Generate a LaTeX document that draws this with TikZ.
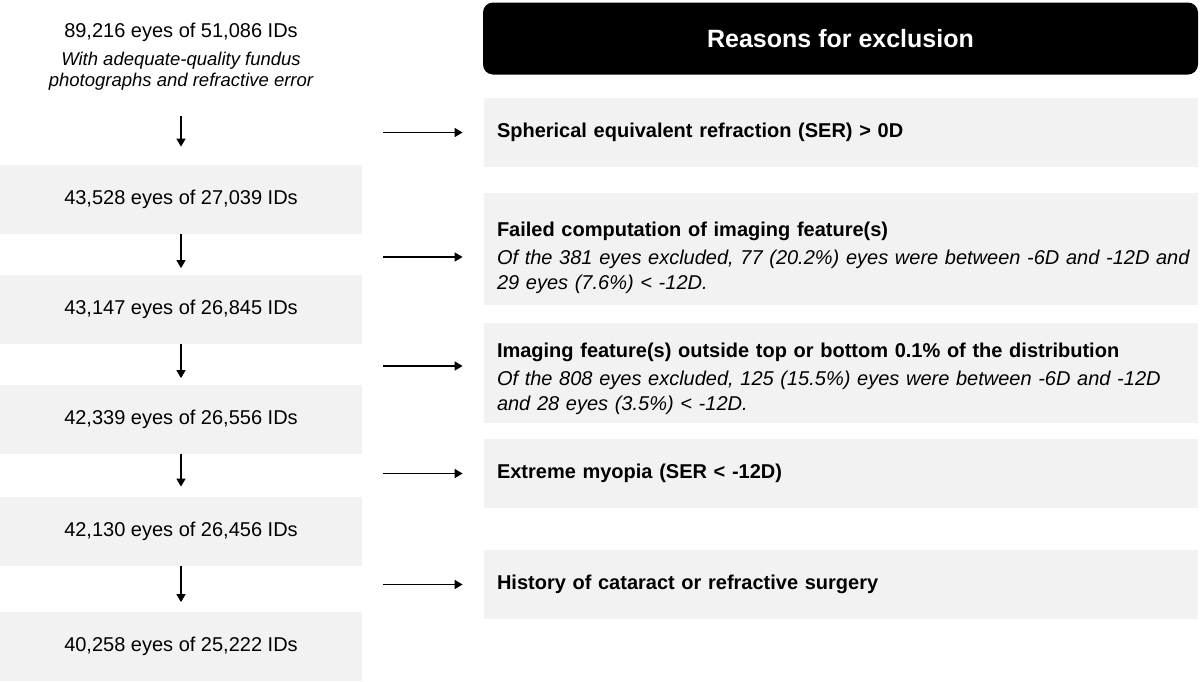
\documentclass[tikz,border=0pt]{standalone}
\usepackage{fontspec}
\setmainfont{Liberation Sans}
\usetikzlibrary{arrows.meta}

\begin{document}
\begin{tikzpicture}[x=0.5pt,y=-0.5pt,every node/.style={inner sep=0pt,font=\fontsize{10}{12}\selectfont},
    countbox/.style={fill=black!5,minimum width=181pt,minimum height=34.5pt},
    reasonbox/.style={fill=black!5,minimum width=357pt,minimum height=34.5pt,text width=344pt,align=left,font=\fontsize{10}{12.5}\selectfont},
    stepdown/.style={-{Triangle[length=4pt,width=4.5pt]},line width=0.75pt},
    excl/.style={-{Triangle[length=4pt,width=4.5pt]},line width=0.75pt,shorten <=10.5pt,shorten >=10.5pt}]
  \useasboundingbox (0,0) rectangle (1200,681);
  % left column: counts
  \node (n0) at (181,32.5) {89,216 eyes of 51,086 IDs};
  \node[align=center,font=\itshape\fontsize{9.25}{10.5}\selectfont] (n0note) at (181,71.5) {With adequate-quality fundus\\photographs and refractive error};
  \node[countbox] (n1) at (181,199.5) {43,528 eyes of 27,039 IDs};
  \node[countbox] (n2) at (181,309) {43,147 eyes of 26,845 IDs};
  \node[countbox] (n3) at (181,419) {42,339 eyes of 26,556 IDs};
  \node[countbox] (n4) at (181,531.5) {42,130 eyes of 26,456 IDs};
  \node[countbox] (n5) at (181,646) {40,258 eyes of 25,222 IDs};
  % right column: reasons
  \node[fill=black,rounded corners=5pt,minimum width=357.5pt,minimum height=36pt,text=white,font=\bfseries\fontsize{12.5}{15}\selectfont] (head) at (840.5,38.5) {Reasons for exclusion};
  \node[reasonbox] (r1) at (841,132.5) {\textbf{Spherical equivalent refraction (SER) > 0D}};
  \node[reasonbox,minimum height=56pt] (r2) at (841,249) {\rule{0pt}{16pt}\textbf{Failed computation of imaging feature(s)}\\[1.5pt]
    \mbox{\textit{Of the 381 eyes excluded, 77 (20.2\%) eyes were between -6D and -12D and}}\\\textit{29 eyes (7.6\%) < -12D.}};
  \node[reasonbox,minimum height=50pt] (r3) at (841,373) {\rule{0pt}{13.5pt}\textbf{Imaging feature(s) outside top or bottom 0.1\% of the distribution}\\[1.5pt]
    \mbox{\textit{Of the 808 eyes excluded, 125 (15.5\%) eyes were between -6D and -12D}}\\\textit{and 28 eyes (3.5\%) < -12D.}};
  \node[reasonbox] (r4) at (841,473.5) {\textbf{Extreme myopia (SER < -12D)}};
  \node[reasonbox] (r5) at (841,584.5) {\textbf{History of cataract or refractive surgery}};
  % arrows
  \draw[stepdown,shorten <=12.5pt,shorten >=9pt] (n0note) -- (n1);
  \foreach \a/\b/\s in {n1/n2/3pt,n2/n3/3pt,n3/n4/5pt,n4/n5/4.5pt}
    \draw[stepdown,shorten >=\s] (\a) -- (\b);
  \foreach \r/\dy in {r1/0pt,r2/-4pt,r3/3.5pt,r4/0pt,r5/0pt}
    \draw[excl] ([yshift=\dy]\r.west -| n1.east) -- ([yshift=\dy]\r.west);
\end{tikzpicture}
\end{document}
